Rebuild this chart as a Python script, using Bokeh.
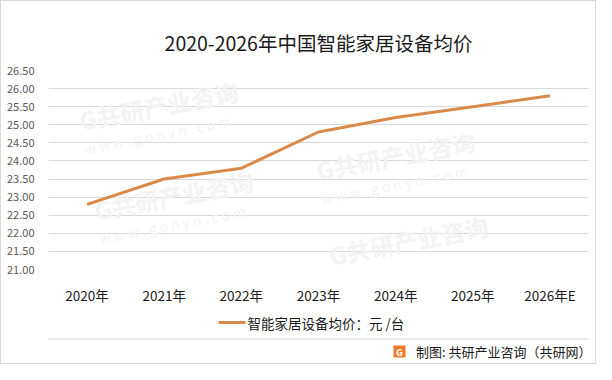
from bokeh.plotting import figure
from bokeh.layouts import column
from bokeh.models import (FactorRange, Range1d, FixedTicker, NumeralTickFormatter,
                          Label, BoxAnnotation)
from bokeh.embed import file_html
from bokeh.resources import INLINE

# ---- data ----
years = ["2020年", "2021年", "2022年", "2023年", "2024年", "2025年", "2026年E"]
avg_price = [22.8, 23.5, 23.8, 24.8, 25.2, 25.5, 25.8]
y_ticks = [21.0, 21.5, 22.0, 22.5, 23.0, 23.5, 24.0, 24.5, 25.0, 25.5, 26.0, 26.5]
title_text = "2020-2026年中国智能家居设备均价"
legend_text = "智能家居设备均价：元 /台"
source_text = "制图: 共研产业咨询（共研网）"
wm_text = "G共研产业咨询"
wm_url = "w w w . g o n y n . c o m"

FONT = "Noto Sans CJK SC"
W = 594
H_TOP, H_BOT = 306, 56
LINE_COLOR = "#D98A4A"
TEXT = "#1a1a1a"


def canvas_box(fig, left, right, top, bottom, **kw):
    fig.add_layout(BoxAnnotation(left=left, right=right, top=top, bottom=bottom,
                                 left_units="canvas", right_units="canvas",
                                 top_units="canvas", bottom_units="canvas", **kw))


def canvas_label(fig, x, y, text, **kw):
    fig.add_layout(Label(x=x, y=y, x_units="canvas", y_units="canvas", text=text,
                         text_font=FONT, **kw))


# ---------------- main chart ----------------
p = figure(width=W, height=H_TOP, x_range=FactorRange(*years), y_range=Range1d(21.0, 26.5),
           output_backend="svg", toolbar_location=None,
           min_border_left=47, min_border_right=7, min_border_top=69, min_border_bottom=34)
p.outline_line_color = None
p.background_fill_color = "white"
p.border_fill_color = "white"

p.title.text = title_text
p.title.align = "center"
p.title.offset = -5
p.title.standoff = 28
p.title.text_font = FONT
p.title.text_font_size = "19.5px"
p.title.text_font_style = "normal"
p.title.text_color = TEXT

# faint watermarks inside the plot area
for (wx, wy, with_url) in [(78, 119, True), (315, 169, True), (93, 209, True), (328, 254, False)]:
    canvas_label(p, wx, wy, wm_text, text_font_size="24px", text_font_style="bold",
                 text_color="#f3f3f3", text_align="left", text_baseline="middle",
                 angle=0.19, level="underlay")
    if with_url:
        canvas_label(p, wx + 5, wy + 28, wm_url, text_font_size="14px",
                     text_color="#f3f3f3", text_align="left", text_baseline="middle",
                     angle=0.19, level="underlay")

p.line(x=years, y=avg_price, line_color=LINE_COLOR, line_width=3)

p.yaxis.ticker = FixedTicker(ticks=y_ticks)
p.yaxis.formatter = NumeralTickFormatter(format="0.00")
p.yaxis.axis_line_color = None
p.yaxis.major_tick_line_color = None
p.yaxis.minor_tick_line_color = None
p.yaxis.major_tick_out = 0
p.yaxis.major_tick_in = 0
p.yaxis.major_label_standoff = 14
p.yaxis.major_label_text_font = FONT
p.yaxis.major_label_text_font_size = "11px"
p.yaxis.major_label_text_color = "#595959"

p.xaxis.axis_line_color = None
p.xaxis.major_tick_line_color = None
p.xaxis.major_tick_out = 0
p.xaxis.major_tick_in = 0
p.xaxis.major_label_standoff = 15
p.xaxis.major_label_text_font = FONT
p.xaxis.major_label_text_font_size = "13.5px"
p.xaxis.major_label_text_color = TEXT

p.xgrid.grid_line_color = None
p.ygrid.ticker = FixedTicker(ticks=y_ticks)
p.ygrid.grid_line_color = "#d9d9d9"
p.ygrid.grid_line_width = 1

# ---------------- legend + source strip ----------------
q = figure(width=W, height=H_BOT, x_range=Range1d(0, 1), y_range=Range1d(0, 1),
           output_backend="svg", toolbar_location=None,
           x_axis_type=None, y_axis_type=None,
           min_border_left=0, min_border_right=0, min_border_top=0, min_border_bottom=0)
q.outline_line_color = None
q.grid.visible = False
q.background_fill_color = "white"
q.border_fill_color = "white"

# legend
canvas_box(q, 217, 244, 13.5, 16.5, fill_color=LINE_COLOR, fill_alpha=1, line_color=None)
canvas_label(q, 246, 15, legend_text, text_font_size="13.5px", text_color=TEXT,
             text_align="left", text_baseline="middle")
# separator
canvas_box(q, 13, 589, 31, 32, fill_color="#d9d9d9", fill_alpha=1, line_color=None)
# source note with logo
canvas_box(q, 392, 404, 38, 50, fill_color="#F07A28", fill_alpha=1, line_color=None)
canvas_label(q, 398, 44, "G", text_font_size="9.5px", text_font_style="bold",
             text_color="white", text_align="center", text_baseline="middle")
canvas_label(q, 590, 44, source_text, text_font_size="13px", text_color=TEXT,
             text_align="right", text_baseline="middle")

layout = column(p, q, spacing=0)
layout.styles = {"border": "1px solid #d9d9d9"}

open("out.html", "w").write(file_html(layout, INLINE))
